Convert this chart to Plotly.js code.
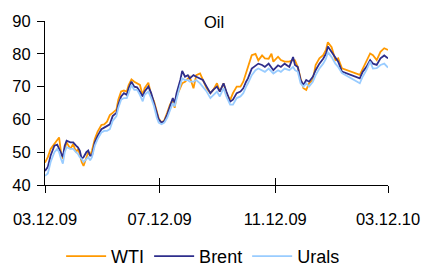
<!DOCTYPE html>
<html><head><meta charset="utf-8">
<script src="https://cdn.plot.ly/plotly-3.0.1.min.js"></script>
<style>html,body{margin:0;padding:0;background:#fff}#c{width:422px;height:266px}</style>
</head><body><div id="c"></div>
<script>
// days since 2009-03-12
const days = [0,3,6,10,13,15,17,19,21,23,27,30,33,35,37,39,41,44,46,48,50,53,56,60,63,66,69,72,76,78,81,84,87,89,92,95,98,101,104,106,110,113,116,119,121,124,127,130,133,136,138,140,144,146,149,152,154,158,161,165,168,172,176,179,183,186,190,193,197,200,204,208,211,214,216,220,224,227,231,234,238,241,243,248,251,255,260,264,266,269,272,275,278,281,285,288,292,296,299,301,305,309,312,316,335,338,342,346,349,353,357,361,365];
const wti = [46.8,48.5,51,52.5,54,54.5,50,48,51,53,51,52.5,50,51,49.5,47,45.8,48,50,49,50.5,54,56.3,58.3,58.5,59.3,61.3,62,63,66,68.5,68.8,68.5,70.5,72.2,71.5,71,70.5,67.4,69.5,71.2,67.4,65.5,62,60.3,59,59.8,62,64.5,66,63.5,67,69.5,71,71.5,72.5,73,69.5,73.5,74,72,69.5,68,69,71,68.5,71,68,65.9,68,70,70,71.5,74,76,79.6,80,78,79.5,78.6,78.5,80,77.6,79.1,78.1,77.6,77.6,78.1,78,76,72.5,69.5,69,71,72,76.6,78.6,79.6,81.2,83.5,82,78.1,78.6,75.6,73.6,75.5,77.6,80.1,79.6,78.1,80.6,81.7,81.2];
const brent = [44.3,45.5,49,52,52.3,51,50,48.5,52,53.5,53,53,52,51.5,50.5,48,48.5,50,50.5,49,49,53,55,57,57.5,58,58.5,61,62,64.5,67,68,67.5,69.5,71.5,70,69.8,68.5,67,68.5,70,68,65,62,60,59,59.5,61.5,64,66.5,65,68,72,74.8,73,73.5,72.5,73.5,73,72.5,72,70,68,69,70,68.5,71,68.5,65.4,66,68,68.5,69.5,71.5,72.5,75.5,76.5,77,76.6,76,77,76,75,76.5,76,77,76,79,76.6,76,72,70.5,72,71.5,73,75,77,78.5,80,82.2,80.5,78.5,77.6,74.6,72.5,74.5,76,78.1,77,76.6,78.6,79.5,78.6];
const urals = [42.8,43.5,47,50,51,50,48,46.5,50,51.5,51,51,50,49.5,48.5,48,47,48,48.5,47.5,48.5,52,54,56,56.5,56.5,57,59.5,61,63.5,66,66.5,66.5,68,70.5,69,69,67.5,65.5,67.5,68.5,66.5,64,60.5,59,58.5,59,60.5,63,65,64,66.5,70.5,72.5,72,72,71.5,71.5,72,71,70,68.5,66.5,67.5,68.5,67,69.5,67,64.5,64.5,66.5,67,68,70,71,73.5,75,75.5,75,74.5,75.5,74.5,74,75,74.5,75.5,75,76,75,74.5,71,70,71,70,71.5,73.5,75.5,77,78.5,80.5,79,77,76,74.1,71,73,75,77.6,75.5,75.6,76.6,77,75.8];
const tickDates = ['2009-03-12','2009-07-12','2009-11-12','2010-03-12'];
const tickLabels = ['03.12.09','07.12.09','11.12.09','03.12.10'];

const base = Date.UTC(2009,2,12);
const x = days.map(d => new Date(base + d*86400000).toISOString().slice(0,10));
const mk = (name, y, color) => ({x, y, name, type:'scatter', mode:'lines', line:{color, width:1.8}});
const data = [mk('WTI', wti, '#FF9900'), mk('Brent', brent, '#2E2E8C'), mk('Urals', urals, '#99CCFF')];
const F = 'Liberation Sans, Arial, sans-serif';
const layout = {
  width:422, height:266,
  margin:{l:45, r:34, t:21, b:81, autoexpand:false},
  paper_bgcolor:'#fff', plot_bgcolor:'#fff',
  font:{family:F, size:16, color:'#000'},
  title:{text:'Oil', font:{family:F, size:16.5, color:'#000'}, x:0.493, xanchor:'center', y:0.918, yanchor:'middle', xref:'paper'},
  showlegend:true,
  legend:{orientation:'h', x:0.461, xanchor:'center', y:-0.435, yanchor:'middle', font:{family:F, size:18}, itemwidth:40, tracegroupgap:0},
  xaxis:{type:'date', range:['2009-03-12','2010-03-12'], tickvals:tickDates, ticktext:tickLabels,
    showgrid:false, zeroline:false, showline:true, linecolor:'#000', linewidth:1,
    ticks:'outside', ticklen:7, tickcolor:'#000', tickfont:{family:F, size:16.5}, ticklabelstandoff:12},
  xaxis2:{type:'date', overlaying:'x', range:['2009-03-12','2010-03-12'], tickvals:tickDates, showticklabels:false,
    showgrid:false, zeroline:false, showline:false, ticks:'inside', ticklen:7, tickcolor:'#000', anchor:'y', side:'bottom'},
  yaxis:{range:[40,90], tickvals:[40,50,60,70,80,90], showgrid:false, zeroline:false, showline:true,
    linecolor:'#000', linewidth:1, ticks:'outside', ticklen:7, tickcolor:'#000', tickfont:{family:F, size:16.5}, ticklabelstandoff:3}
};
data.push({x:[x[0]], y:[60], xaxis:'x2', showlegend:false, hoverinfo:'skip', type:'scatter', mode:'lines', line:{width:0}});
Plotly.newPlot('c', data, layout, {displayModeBar:false, staticPlot:true});
</script></body></html>
